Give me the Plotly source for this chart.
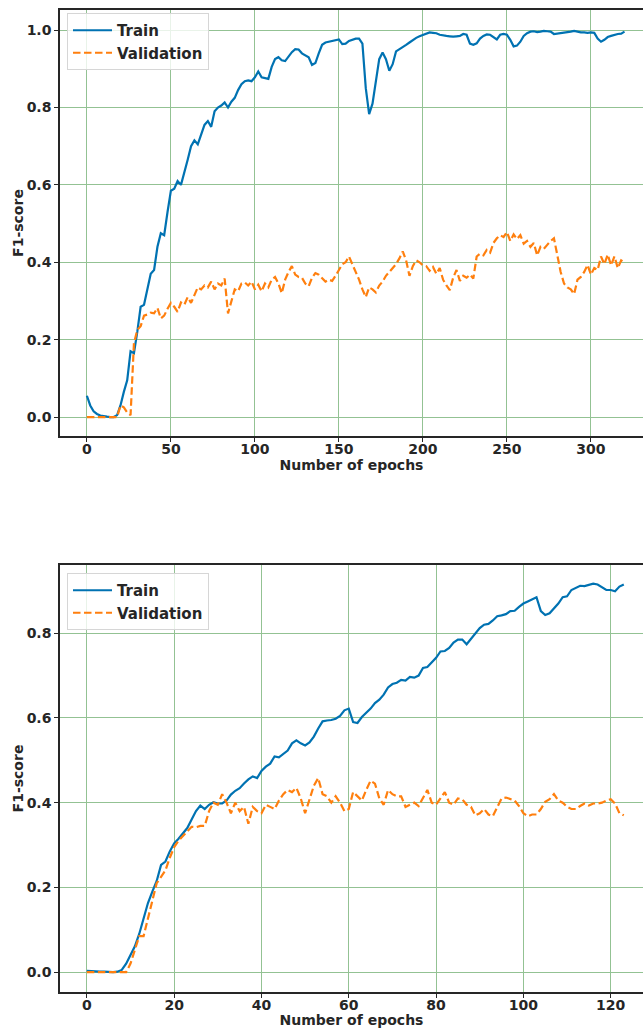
import plotly.graph_objects as go

# ---------------- data: top run (sampled every 2 epochs) ----------------
epochs_top = list(range(0, 321, 2))
train_top = [
    0.055, 0.030, 0.015, 0.008, 0.004, 0.002, 0.001, 0.000, 0.000, 0.005,
    0.030, 0.065, 0.095, 0.170, 0.165, 0.220, 0.285, 0.290, 0.335, 0.370,
    0.380, 0.440, 0.475, 0.470, 0.530, 0.585, 0.590, 0.610, 0.600, 0.630,
    0.665, 0.700, 0.715, 0.705, 0.730, 0.755, 0.765, 0.750, 0.790, 0.800,
    0.805, 0.813, 0.800, 0.815, 0.825, 0.845, 0.860, 0.868, 0.870, 0.868,
    0.878, 0.893, 0.878, 0.875, 0.874, 0.905, 0.925, 0.930, 0.922, 0.920,
    0.932, 0.943, 0.951, 0.950, 0.940, 0.936, 0.930, 0.910, 0.915, 0.940,
    0.962, 0.968, 0.970, 0.972, 0.973, 0.976, 0.964, 0.965, 0.972, 0.976,
    0.978, 0.978, 0.965, 0.850, 0.783, 0.810, 0.870, 0.925, 0.942, 0.925,
    0.895, 0.912, 0.945, 0.950, 0.955, 0.962, 0.968, 0.975, 0.980, 0.984,
    0.987, 0.992, 0.994, 0.993, 0.992, 0.988, 0.986, 0.985, 0.984, 0.983,
    0.984, 0.985, 0.990, 0.988, 0.965, 0.962, 0.966, 0.978, 0.985, 0.989,
    0.988, 0.982, 0.976, 0.988, 0.990, 0.988, 0.975, 0.958, 0.960, 0.970,
    0.985, 0.992, 0.996, 0.997, 0.995, 0.996, 0.998, 0.997, 0.996, 0.990,
    0.991, 0.992, 0.993, 0.995, 0.996, 0.998, 0.996, 0.994, 0.994, 0.993,
    0.994, 0.993, 0.978, 0.970, 0.975, 0.982, 0.985, 0.988, 0.990, 0.991,
    0.996,
]
val_top = [
    0.000, 0.000, 0.000, 0.000, 0.000, 0.000, 0.000, 0.000, 0.000, 0.000,
    0.030, 0.025, 0.012, 0.005, 0.190, 0.225, 0.235, 0.262, 0.265, 0.270,
    0.268, 0.282, 0.255, 0.262, 0.280, 0.295, 0.285, 0.272, 0.296, 0.290,
    0.310, 0.295, 0.315, 0.335, 0.330, 0.340, 0.335, 0.350, 0.330, 0.345,
    0.340, 0.358, 0.268, 0.300, 0.330, 0.325, 0.345, 0.348, 0.340, 0.350,
    0.330, 0.342, 0.325, 0.345, 0.335, 0.355, 0.362, 0.345, 0.320, 0.355,
    0.375, 0.390, 0.368, 0.362, 0.360, 0.345, 0.338, 0.360, 0.372, 0.368,
    0.360, 0.350, 0.355, 0.352, 0.365, 0.382, 0.395, 0.400, 0.415, 0.395,
    0.375, 0.355, 0.330, 0.310, 0.335, 0.330, 0.322, 0.340, 0.350, 0.365,
    0.375, 0.385, 0.395, 0.410, 0.428, 0.405, 0.365, 0.390, 0.405, 0.400,
    0.392, 0.390, 0.378, 0.388, 0.370, 0.385, 0.355, 0.340, 0.328, 0.360,
    0.380, 0.352, 0.365, 0.360, 0.368, 0.358, 0.415, 0.422, 0.418, 0.432,
    0.425, 0.450, 0.462, 0.470, 0.465, 0.478, 0.455, 0.472, 0.460, 0.470,
    0.448, 0.455, 0.440, 0.450, 0.418, 0.440, 0.435, 0.445, 0.455, 0.462,
    0.420, 0.375, 0.345, 0.335, 0.330, 0.318, 0.355, 0.362, 0.375, 0.393,
    0.368, 0.385, 0.380, 0.415, 0.395, 0.420, 0.392, 0.415, 0.385, 0.405,
    0.400,
]

# ---------------- data: bottom run (every epoch) ----------------
epochs_bot = list(range(0, 124))
train_bot = [
    0.003, 0.002, 0.002, 0.001, 0.001, 0.000, 0.000, 0.001, 0.005, 0.020,
    0.040, 0.061, 0.090, 0.124, 0.163, 0.190, 0.215, 0.253, 0.261, 0.285,
    0.304, 0.315, 0.328, 0.340, 0.360, 0.380, 0.393, 0.385, 0.395, 0.401,
    0.398, 0.398, 0.405, 0.419, 0.428, 0.434, 0.445, 0.455, 0.462, 0.458,
    0.475, 0.485, 0.492, 0.509, 0.507, 0.515, 0.523, 0.540, 0.547, 0.540,
    0.535, 0.542, 0.556, 0.575, 0.592, 0.594, 0.595, 0.598, 0.605, 0.618,
    0.622, 0.590, 0.588, 0.602, 0.612, 0.622, 0.635, 0.643, 0.655, 0.672,
    0.680, 0.683, 0.690, 0.688, 0.697, 0.695, 0.700, 0.718, 0.720, 0.730,
    0.742, 0.757, 0.758, 0.765, 0.778, 0.785, 0.785, 0.774, 0.787, 0.800,
    0.812, 0.820, 0.822, 0.830, 0.840, 0.842, 0.845, 0.852, 0.853, 0.862,
    0.870, 0.875, 0.880, 0.885, 0.852, 0.843, 0.847, 0.858, 0.870, 0.885,
    0.887, 0.902, 0.907, 0.912, 0.911, 0.914, 0.917, 0.915, 0.908, 0.902,
    0.902, 0.899, 0.910, 0.915,
]
val_bot = [
    0.000, 0.000, 0.000, 0.000, 0.000, 0.000, 0.000, 0.000, 0.000, 0.000,
    0.020, 0.050, 0.085, 0.085, 0.125, 0.165, 0.210, 0.225, 0.240, 0.270,
    0.295, 0.310, 0.322, 0.332, 0.343, 0.342, 0.345, 0.345, 0.380, 0.400,
    0.395, 0.420, 0.400, 0.375, 0.400, 0.380, 0.390, 0.350, 0.390, 0.380,
    0.375, 0.395, 0.390, 0.385, 0.405, 0.420, 0.430, 0.425, 0.435, 0.410,
    0.375, 0.410, 0.440, 0.458, 0.420, 0.415, 0.400, 0.415, 0.400, 0.380,
    0.385, 0.425, 0.415, 0.405, 0.430, 0.452, 0.445, 0.410, 0.395, 0.430,
    0.420, 0.415, 0.415, 0.390, 0.395, 0.400, 0.392, 0.410, 0.430, 0.400,
    0.395, 0.410, 0.425, 0.400, 0.395, 0.410, 0.408, 0.395, 0.390, 0.370,
    0.375, 0.385, 0.372, 0.368, 0.390, 0.410, 0.412, 0.408, 0.405, 0.392,
    0.375, 0.368, 0.372, 0.372, 0.385, 0.402, 0.408, 0.420, 0.405, 0.400,
    0.390, 0.385, 0.385, 0.392, 0.398, 0.393, 0.398, 0.398, 0.400, 0.405,
    0.408, 0.398, 0.375, 0.370,
]

series_names = ["Train", "Validation"]
x_title = "Number of epochs"
y_title = "F1-score"
top_xticks = [0, 50, 100, 150, 200, 250, 300]
bot_xticks = [0, 20, 40, 60, 80, 100, 120]
top_yticks = [0.0, 0.2, 0.4, 0.6, 0.8, 1.0]
bot_yticks = [0.0, 0.2, 0.4, 0.6, 0.8]

BLUE = "#0072b2"
ORANGE = "#ff7f0e"
DARK = "#262626"
GRID = "#93c293"
FONT = "DejaVu Sans"
W, H = 643, 1028
DASH = "7.5px,3.5px"
LW = 2.2

fig = go.Figure()
fig.add_trace(go.Scatter(x=epochs_top, y=train_top, name=series_names[0], mode="lines",
                         line=dict(color=BLUE, width=LW), xaxis="x", yaxis="y",
                         legend="legend", legendgroup="a"))
fig.add_trace(go.Scatter(x=epochs_top, y=val_top, name=series_names[1], mode="lines",
                         line=dict(color=ORANGE, width=LW, dash=DASH), xaxis="x", yaxis="y",
                         legend="legend", legendgroup="b"))
fig.add_trace(go.Scatter(x=epochs_bot, y=train_bot, name=series_names[0], mode="lines",
                         line=dict(color=BLUE, width=LW), xaxis="x2", yaxis="y2",
                         legend="legend2", legendgroup="c"))
fig.add_trace(go.Scatter(x=epochs_bot, y=val_bot, name=series_names[1], mode="lines",
                         line=dict(color=ORANGE, width=LW, dash=DASH), xaxis="x2", yaxis="y2",
                         legend="legend2", legendgroup="d"))

x0 = 60 / W
top_dom = [1 - 436 / H, 1 - 10 / H]
bot_dom = [1 - 992 / H, 1 - 565 / H]

tickfont = dict(family=FONT, size=14, color=DARK, weight="bold")
titlefont = dict(family=FONT, size=14, color=DARK, weight="bold")

def xax(rng, ticks, anchor):
    return dict(domain=[x0, 1], range=rng, tickvals=ticks, ticktext=[str(t) for t in ticks],
                showgrid=True, gridcolor=GRID, gridwidth=1, zeroline=False,
                showline=True, linecolor=DARK, linewidth=1.5, mirror=True,
                ticks="outside", ticklen=4, tickwidth=1, tickcolor=DARK,
                ticklabelstandoff=-5,
                tickfont=tickfont, anchor=anchor,
                title=dict(text=x_title, font=titlefont, standoff=0))

def yax(rng, ticks, dom, anchor):
    return dict(domain=dom, range=rng, tickvals=ticks, ticktext=[f"{t:.1f}" for t in ticks],
                showgrid=True, gridcolor=GRID, gridwidth=1, zeroline=False,
                showline=True, linecolor=DARK, linewidth=1.5, mirror=False,
                ticks="outside", ticklen=4, tickwidth=1, tickcolor=DARK,
                tickfont=tickfont, anchor=anchor,
                title=dict(text=y_title, font=titlefont, standoff=0))

legend_style = dict(bgcolor="rgba(255,255,255,0.8)", bordercolor="#d6d6d6", borderwidth=1,
                    font=dict(family=FONT, size=15, color=DARK, weight="bold"),
                    xanchor="left", yanchor="top", tracegroupgap=0, itemwidth=39)

fig.update_layout(
    width=W, height=H,
    margin=dict(l=0, r=0, t=0, b=0),
    paper_bgcolor="white", plot_bgcolor="white",
    showlegend=True,
    xaxis=xax([-16, 331], top_xticks, "y"),
    yaxis=yax([-0.049, 1.052], top_yticks, top_dom, "x"),
    xaxis2=xax([-6.15, 127.4], bot_xticks, "y2"),
    yaxis2=yax([-0.047, 0.961], bot_yticks, bot_dom, "x2"),
    legend=dict(x=67 / W, y=1 - 13 / H, **legend_style),
    legend2=dict(x=67 / W, y=1 - 573 / H, **legend_style),
)

fig.write_html("out.html")
